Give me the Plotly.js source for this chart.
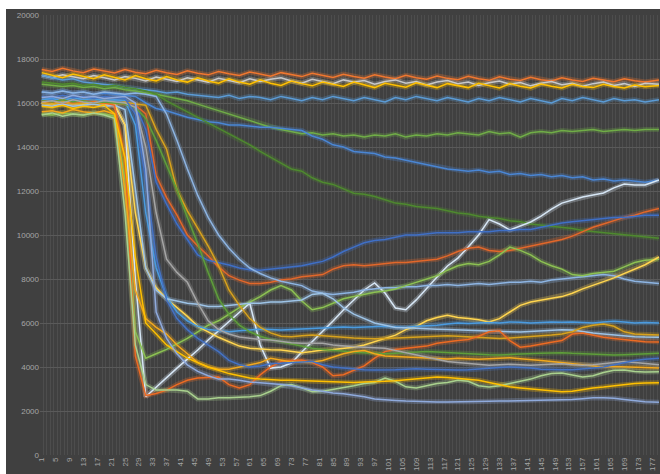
<!DOCTYPE html>
<html>
<head>
<meta charset="utf-8">
<script src="https://cdn.plot.ly/plotly-3.0.1.min.js"></script>
<style>
html,body{margin:0;padding:0;background:#ffffff;width:660px;height:474px;overflow:hidden;}
#chart{position:absolute;left:6px;top:9px;width:654px;height:465px;background:#404040;}
</style>
</head>
<body>
<div id="chart"></div>
<script>
// Categories sampled along the x axis (category number)
const cats = [1,4,7,10,13,16,19,22,25,28,31,34,37,40,43,46,49,52,55,58,61,64,67,70,73,76,79,82,85,88,91,94,97,100,103,106,109,112,115,118,121,124,127,130,133,136,139,142,145,148,151,154,157,160,163,166,169,172,175,179];

// X tick labels
const xTickLabels = ['1','5','9','13','17','21','25','29','33','37','41','45','49','53','57','61','65','69','73','77','81','85','89','93','97','101','105','109','113','117','121','125','129','133','137','141','145','149','153','157','161','165','169','173','177'];

// Series values
const orangeTop = [17520,17430,17580,17460,17380,17540,17450,17360,17520,17400,
17330,17490,17380,17300,17460,17350,17280,17430,17330,17250,
17410,17300,17220,17380,17280,17200,17350,17240,17160,17310,
17200,17130,17280,17180,17100,17260,17150,17080,17230,17120,
17060,17210,17100,17030,17190,17080,17020,17170,17060,17000,
17150,17050,16980,17120,17030,16970,17100,17010,16960,17050];
const grayTop = [17250,17150,17280,17180,17100,17250,17150,17050,17200,17120,
17000,17180,17080,16980,17150,17050,16950,17120,17020,16920,
17100,16980,17080,17150,17000,16900,17080,16980,16880,17050,
16950,17020,16850,16980,17050,16900,16980,16820,16950,17020,
16880,16950,16800,16920,17000,16850,16930,16780,16900,16980,
16830,16900,16760,16880,16950,16800,16880,16750,16900,16850];
const yellowTop = [17380,17250,17150,17320,17200,17100,17280,17150,17050,17250,
17100,17000,17200,17050,16950,17150,17000,16900,17100,16950,
16850,17050,16900,16800,17000,16880,16780,16950,16850,16750,
16950,16820,16700,16900,16800,16720,16920,16800,16700,16880,
16780,16700,16900,16780,16680,16880,16760,16680,16860,16760,
16680,16850,16750,16700,16850,16750,16680,16820,16740,16800];
const blueTop = [17250,17150,17050,17100,16950,16900,16850,16800,16700,16650,
16600,16550,16450,16500,16400,16350,16300,16250,16350,16200,
16300,16250,16150,16300,16200,16100,16250,16150,16300,16200,
16100,16250,16150,16050,16250,16150,16300,16200,16100,16250,
16150,16050,16200,16100,16250,16150,16050,16200,16100,16000,
16200,16100,16250,16150,16050,16200,16100,16150,16050,16150];
const greenHigh = [16850,16800,16750,16800,16700,16750,16650,16700,16600,16550,
16450,16400,16300,16200,16100,15950,15800,15650,15500,15350,
15200,15050,14900,14800,14700,14600,14650,14550,14600,14500,
14550,14450,14550,14500,14600,14450,14550,14500,14600,14550,
14650,14600,14550,14700,14600,14650,14450,14650,14700,14650,
14750,14700,14750,14800,14700,14750,14800,14750,14800,14800];
const blueSlide = [16500,16450,16550,16450,16500,16400,16450,16400,16350,16300,
16000,15750,15650,15500,15350,15250,15150,15100,15000,15000,
14950,14900,14900,14850,14800,14750,14500,14350,14100,14000,
13800,13750,13700,13550,13500,13400,13300,13200,13100,13000,
12950,12900,12950,12850,12900,12750,12800,12700,12750,12650,
12700,12600,12650,12500,12550,12450,12500,12450,12400,12500];
const darkGreenSlide = [16950,16900,16850,16900,16800,16850,16750,16800,16700,16650,
16550,16400,16100,15850,15600,15350,15100,14850,14600,14350,
14100,13800,13550,13270,13000,12900,12600,12400,12300,12100,
11900,11850,11750,11600,11450,11400,11300,11250,11200,11100,
11000,10950,10850,10800,10750,10650,10600,10500,10450,10400,
10350,10300,10200,10150,10100,10050,10000,9950,9900,9850];
const whiteZigzag = [16000,15950,16050,15950,16000,16050,15950,15900,15000,8000,
2650,3090,3550,3950,4360,4770,5230,5640,6050,6500,
6900,5000,3950,4000,4180,4680,5140,5640,6090,6590,
7050,7500,7820,7360,6680,6600,7050,7590,8090,8590,
8950,9450,10000,10700,10500,10230,10410,10590,10860,11180,
11450,11590,11730,11820,11910,12140,12320,12270,12270,12500];
const orangeRise = [16000,16050,15950,16050,16000,15950,16050,16000,15950,15900,
15500,12700,11700,10900,10000,9500,9050,8550,8150,7950,
7800,7800,7850,7950,8000,8100,8150,8200,8450,8600,
8650,8600,8650,8700,8750,8750,8800,8850,8900,9050,
9250,9400,9450,9300,9250,9300,9400,9500,9600,9700,
9800,9950,10150,10350,10500,10650,10800,10900,11050,11200];
const blueRise = [16100,16150,16050,16100,16150,16050,16100,16050,16100,15900,
14800,12400,11400,10500,9800,9100,8850,8750,8640,8500,
8420,8400,8450,8500,8550,8600,8700,8800,9000,9250,
9450,9650,9750,9800,9900,10000,10000,10050,10100,10100,
10100,10150,10150,10150,10200,10200,10250,10250,10350,10450,
10550,10600,10650,10700,10750,10800,10800,10850,10900,10900];
const lightBlueLate = [16500,16450,16550,16450,16500,16400,16500,16450,16400,16450,
16400,16300,15500,14300,13000,11800,10800,10000,9400,8900,
8500,8250,8050,7900,7800,7700,7450,7350,7300,7350,
7400,7500,7550,7600,7600,7650,7650,7700,7700,7750,
7700,7750,7800,7750,7800,7850,7850,7900,7850,7950,
8000,8050,8100,8150,8200,8150,8000,7900,7850,7800];
const greenHump = [15500,15450,15550,15500,15450,15550,15500,15400,12500,5600,
4400,4600,4800,5050,5300,5600,5900,6100,6400,6700,
6950,7200,7500,7700,7500,7000,6600,6700,6900,7100,
7200,7300,7400,7450,7550,7700,7850,8000,8150,8400,
8600,8700,8650,8800,9100,9450,9300,9100,8800,8600,
8450,8200,8150,8250,8300,8350,8550,8750,8850,8900];
const yellowRise = [16000,15950,16050,16000,15950,16050,16000,15950,15000,11000,
8500,7600,7100,6700,6300,5850,5600,5350,5150,4950,
4850,4800,4780,4770,4700,4650,4700,4770,4800,4860,
4900,5000,5150,5300,5450,5700,5850,6100,6250,6350,
6250,6200,6150,6050,6200,6500,6800,6950,7050,7120,
7200,7350,7550,7730,7880,8050,8250,8450,8650,9000];
const blueSix = [16150,16200,16100,16250,16150,16200,16100,16150,16100,15000,
11000,8500,7200,6500,6100,5850,5700,5650,5600,5650,
5700,5720,5700,5680,5700,5720,5750,5780,5800,5820,
5800,5820,5830,5850,5820,5800,5850,5870,5900,5950,
6000,5980,6000,6020,6000,6050,6030,6000,6020,6050,
6030,6050,6020,6000,6050,6080,6050,6000,6020,6000];
const lightBluePlateau = [15900,15850,15950,15850,15900,15950,15850,15900,15700,12000,
8500,7500,7100,7000,6900,6850,6750,6750,6800,6850,
6900,6900,6950,6950,7000,7050,7300,7350,7100,6700,
6400,6200,6000,5900,5800,5780,5770,5750,5720,5700,
5680,5650,5650,5620,5600,5600,5590,5620,5650,5680,
5690,5680,5600,5550,5500,5450,5400,5380,5360,5350];
const goldSlow = [16000,15950,16050,15950,16000,16050,15950,16000,16050,15950,
15900,14800,13900,12050,11100,10300,9500,8600,7500,6800,
6200,5800,5550,5400,5380,5420,5450,5420,5380,5350,
5320,5300,5280,5300,5320,5350,5380,5400,5420,5420,
5400,5380,5350,5320,5300,5320,5350,5380,5400,5450,
5500,5600,5800,5900,5950,5850,5600,5500,5480,5450];
const orangeWave = [16100,16050,16150,16000,16100,16050,16000,15900,13500,4500,
2700,2800,2950,3200,3400,3500,3520,3550,3200,3050,
3200,3640,4000,4250,4300,4320,4200,4000,3600,3650,
3850,4050,4400,4700,4800,4850,4870,4950,5080,5150,
5200,5250,5400,5600,5650,5200,4900,4950,5050,5120,
5200,5500,5550,5450,5350,5300,5250,5200,5150,5140];
const greenMid = [16100,16050,16150,16050,16100,16000,16050,16000,15950,15800,
15300,14300,13200,12050,10800,9600,8300,7100,6400,5900,
5600,5400,5250,5150,5050,4950,4850,4800,4750,4700,
4680,4650,4620,4600,4620,4650,4680,4700,4680,4650,
4620,4600,4580,4560,4550,4560,4580,4600,4620,4640,
4650,4620,4600,4580,4560,4550,4560,4580,4600,4620];
const amberMid = [15600,15650,15550,15700,15600,15550,15650,15500,12000,7500,
6200,5800,5500,5000,4600,4200,4000,3900,3900,4000,
4100,4200,4400,4300,4230,4230,4230,4300,4450,4600,
4700,4750,4600,4500,4480,4450,4420,4400,4380,4360,
4400,4380,4350,4380,4400,4420,4380,4350,4300,4250,
4200,4150,4100,4050,4000,4020,4000,3980,3950,3950];
const grayLow = [16050,16100,16000,16150,16050,16000,16100,16050,16000,15800,
14000,11000,8900,8300,7850,6900,6100,5700,5500,5360,
5300,5250,5230,5150,5100,5080,5090,5080,5000,4950,
4920,4900,4880,4850,4750,4650,4550,4450,4350,4250,
4200,4150,4100,4080,4100,4120,4100,4080,4100,4120,
4150,4100,4080,4100,4150,4200,4250,4200,4150,4100];
const blueLow = [16300,16250,16350,16250,16300,16200,16300,16250,16200,15500,
12500,9000,7050,6200,5700,5300,5000,4700,4300,4100,
4000,4050,4150,4180,4200,4230,4250,4100,4000,3950,
3900,3870,3860,3850,3870,3900,3920,3900,3880,3870,
3860,3880,3920,3950,3980,4000,3980,3950,3900,3880,
3870,3880,3900,3950,4000,4100,4200,4300,4350,4400];
const lightGreenLow = [15450,15550,15400,15500,15450,15550,15450,15300,11000,5000,
3200,2950,2950,2950,2900,2550,2550,2600,2600,2620,
2650,2700,2900,3150,3200,3050,2880,2900,2980,3050,
3150,3250,3300,3500,3350,3100,3050,3150,3250,3300,
3400,3350,3150,3090,3150,3250,3350,3450,3600,3700,
3730,3650,3550,3600,3750,3850,3860,3800,3770,3780];
const yellowLow = [15850,15800,15900,15750,15850,15800,15900,15500,13500,9000,
6000,5500,5000,4700,4400,4200,4000,3850,3700,3600,
3500,3450,3420,3400,3400,3380,3350,3330,3320,3300,
3300,3320,3320,3350,3380,3420,3460,3500,3550,3520,
3480,3450,3400,3300,3200,3100,3050,3000,2950,2900,
2870,2900,2980,3050,3090,3150,3200,3250,3270,3280];
const blueBottom = [16250,16300,16200,16350,16250,16300,16200,16250,16300,16000,
13000,6500,5300,4600,4100,3800,3600,3450,3450,3400,
3320,3280,3250,3200,3150,3050,2950,2900,2820,2780,
2720,2650,2550,2500,2480,2450,2430,2420,2410,2410,
2410,2420,2430,2440,2450,2460,2470,2480,2490,2500,
2500,2520,2560,2600,2600,2580,2520,2460,2420,2400];

const seriesValues = [orangeTop, grayTop, yellowTop, blueTop, greenHigh, blueSlide, darkGreenSlide,
  whiteZigzag, orangeRise, blueRise, lightBlueLate, greenHump, yellowRise, blueSix, lightBluePlateau,
  goldSlow, orangeWave, greenMid, amberMid, grayLow, blueLow, lightGreenLow, yellowLow, blueBottom];
const seriesColors = ['#F0772F','#C9C9C9','#FFC000','#5B9BD5','#70AD47','#4A86D4','#4E8A2E',
  '#D6E6F5','#E2672A','#3F6FC6','#8DB4E2','#8CC152','#FFD54F','#4A9BE0','#9DC3E6',
  '#D8A21C','#ED6B23','#5E9E3A','#F2A81D','#A5A5A5','#4472C4','#A9D18E','#FFC000','#8FAADC'];

const traces = [];
seriesValues.forEach((vals, i) => {
  traces.push({x: cats, y: vals, type: 'scatter', mode: 'lines', hoverinfo: 'skip', showlegend: false,
    line: {color: seriesColors[i], width: 5}, opacity: 0.28});
});
seriesValues.forEach((vals, i) => {
  traces.push({x: cats, y: vals, type: 'scatter', mode: 'lines', showlegend: false,
    name: 'Series ' + (i + 1), line: {color: seriesColors[i], width: 1.5}});
});

const tickVals = xTickLabels.map(Number);

const layout = {
  width: 654, height: 465,
  margin: {l: 34, r: 0, t: 6, b: 19, pad: 0},
  paper_bgcolor: '#404040', plot_bgcolor: '#404040',
  showlegend: false,
  font: {family: 'Liberation Sans, Arial, sans-serif', size: 8, color: '#a6a6a6'},
  xaxis: {
    range: [0.5, 179.3], tickvals: tickVals, ticktext: xTickLabels, tickangle: -90,
    showgrid: false, zeroline: false, showline: false, ticks: '',
    tickfont: {size: 8, color: '#a6a6a6'},
    minor: {tick0: 0.5, dtick: 1, showgrid: true, gridcolor: '#4d4d4d', gridwidth: 1, ticks: ''}
  },
  yaxis: {
    range: [0, 20000], dtick: 2000, tickformat: 'd', showgrid: true, gridcolor: '#5a5a5a', gridwidth: 1,
    zeroline: false, showline: false, ticks: '', tickfont: {size: 8, color: '#a6a6a6'}
  }
};

Plotly.newPlot('chart', traces, layout, {displayModeBar: false, staticPlot: true});
</script>
</body>
</html>
